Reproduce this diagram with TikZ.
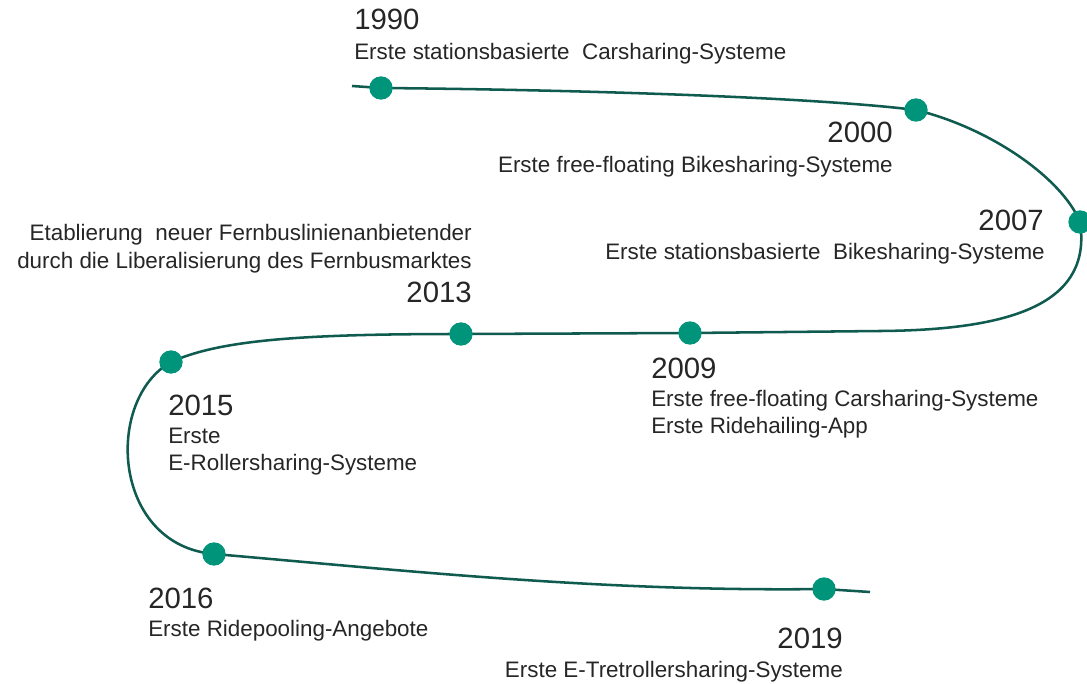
\documentclass[tikz,border=0pt]{standalone}
\usepackage{fontspec}
\setmainfont{Liberation Sans}
\usepackage{xcolor}
\usetikzlibrary{positioning}
\definecolor{tlgreen}{HTML}{0F5B4F}
\definecolor{tldot}{HTML}{00957A}
\definecolor{tlink}{HTML}{262626}

\begin{document}
\begin{tikzpicture}[x=0.75pt,y=-0.75pt,
  yr/.style={font=\fontsize{22}{26}\selectfont,text=tlink,inner sep=0pt},
  captxt/.style={font=\fontsize{16.8}{20}\selectfont,text=tlink,inner sep=0pt},
  tldotst/.style={circle,fill=tldot,minimum size=17.5pt,inner sep=0pt},
  tlline/.style={tlgreen,line width=1.9pt}]
\useasboundingbox (0,0) rectangle (1087,684);
% stations on the line
\coordinate (start) at (352,86);
\coordinate (p1990) at (381,88);
\coordinate (p2000) at (916,110);
\coordinate (p2007) at (1080,222);
\coordinate (bend) at (880,331);
\coordinate (p2009) at (690,333);
\coordinate (p2013) at (461,334);
\coordinate (p2015) at (171,362);
\coordinate (p2016) at (214,554);
\coordinate (p2019) at (824,589);
\coordinate (stop) at (870,592);
\draw[tlline] (start) -- (p1990)
  .. controls (600,90) and (820,98) .. (p2000)
  .. controls (990,128) and (1062,178) .. (p2007)
  .. controls (1092,300) and (1020,330) .. (bend)
  -- (p2009) -- (p2013)
  .. controls (300,334) and (220,340) .. (p2015)
  .. controls (104,400) and (112,545) .. (p2016)
  .. controls (400,570) and (600,592) .. (p2019)
  -- (stop);
\foreach \y in {1990,2000,2007,2009,2013,2015,2016,2019}
  \node[tldotst] (d\y) at (p\y) {};
% labels
\node[yr,anchor=base west] (y1990) at (354,30) {1990};
\node[captxt,anchor=base west] (c1990) at (354,60) {Erste stationsbasierte\ \ Carsharing-Systeme};
\node[yr,anchor=base east] (y2000) at (893,143) {2000};
\node[captxt,anchor=base east] (c2000) at (893,173) {Erste free-floating Bikesharing-Systeme};
\node[yr,anchor=base east] (y2007) at (1044,230) {2007};
\node[captxt,anchor=base east] (c2007) at (1045,259) {Erste stationsbasierte\ \ Bikesharing-Systeme};
\node[captxt,anchor=base east] (c2013a) at (472,240) {Etablierung\ \ neuer Fernbuslinienanbietender};
\node[captxt,anchor=base east] (c2013b) at (472,268) {durch die Liberalisierung des Fernbusmarktes};
\node[yr,anchor=base east] (y2013) at (472,302) {2013};
\node[yr,anchor=base west] (y2009) at (651,378) {2009};
\node[captxt,anchor=base west] (c2009a) at (651,406) {Erste free-floating Carsharing-Systeme};
\node[captxt,anchor=base west] (c2009b) at (651,433) {Erste Ridehailing-App};
\node[yr,anchor=base west] (y2015) at (168,415) {2015};
\node[captxt,anchor=base west] (c2015a) at (168,443) {Erste};
\node[captxt,anchor=base west] (c2015b) at (168,470) {E-Rollersharing-Systeme};
\node[yr,anchor=base west] (y2016) at (148,608) {2016};
\node[captxt,anchor=base west] (c2016) at (148,636) {Erste Ridepooling-Angebote};
\node[yr,anchor=base east] (y2019) at (843,648) {2019};
\node[captxt,anchor=base east] (c2019) at (843,677) {Erste E-Tretrollersharing-Systeme};
\end{tikzpicture}
\end{document}
